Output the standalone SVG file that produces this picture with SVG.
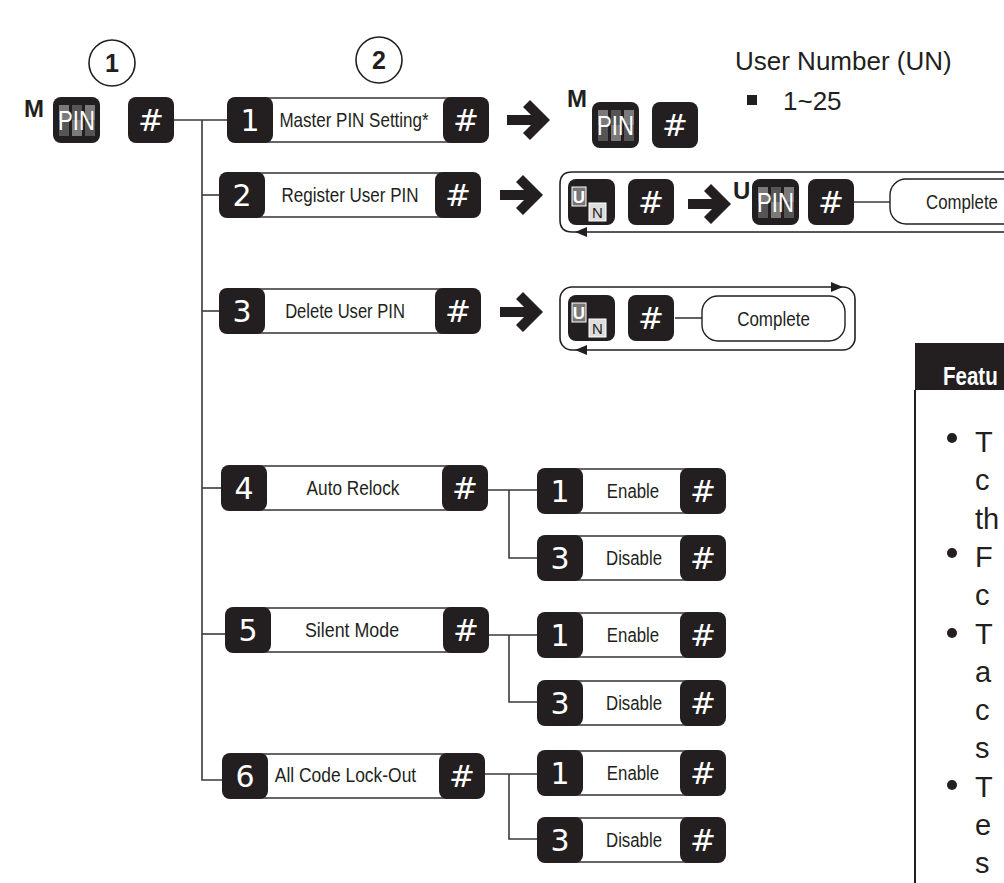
<svg xmlns="http://www.w3.org/2000/svg" width="1004" height="883" viewBox="0 0 1004 883">
<defs>
<style>
.k{fill:#231f20}
.h{fill:#fff;font-family:"DejaVu Sans",sans-serif;font-size:31px;text-anchor:middle}
.d{fill:#fff;font-family:"DejaVu Sans",sans-serif;font-size:30px;text-anchor:middle}
.bx{fill:#fff;stroke:#333;stroke-width:1.5}
.lb{fill:#231f20;font-family:"Liberation Sans",Arial,sans-serif;font-size:21px;text-anchor:middle}
.c{stroke:#3a3a3a;stroke-width:1.6;fill:none}
.lp{stroke:#231f20;stroke-width:1.6;fill:none}
.ah{fill:#231f20}
.pill{fill:#fff;stroke:#231f20;stroke-width:1.4}
.big{fill:#231f20;font-family:"Liberation Sans",Arial,sans-serif;font-size:26px}
.bm{fill:#231f20;font-family:"Liberation Sans",Arial,sans-serif;font-weight:bold;font-size:24px}
.sup{fill:#231f20;font-family:"Liberation Sans",Arial,sans-serif;font-weight:bold;font-size:24px}
.pin{fill:#fff;font-family:"Liberation Sans",Arial,sans-serif;font-size:27px;text-anchor:middle}
.g1{fill:#7a7a7a}
.g2{fill:#555}
.ft{fill:#231f20;font-family:"Liberation Sans",Arial,sans-serif;font-size:29px}
.hd{fill:#fff;font-family:"Liberation Sans",Arial,sans-serif;font-weight:bold;font-size:26px}
.circ{fill:#fff;stroke:#231f20;stroke-width:1.6}
.cn{fill:#231f20;font-family:"Liberation Sans",Arial,sans-serif;font-weight:bold;font-size:25px;text-anchor:middle}
.uk{fill:#fff;font-family:"Liberation Sans",Arial,sans-serif;font-weight:bold;font-size:17px;text-anchor:middle}
.nk{fill:#231f20;font-family:"Liberation Sans",Arial,sans-serif;font-size:15px;text-anchor:middle}
</style>
<path id="arr" d="M-43,-5 H-19 L-27,-13 L-20,-20 L0,0 L-20,20 L-27,13 L-19,5 H-43 Z" fill="#231f20"/>
</defs>
<rect width="1004" height="883" fill="#fff"/>

<g id="connectors">
<path class="c" d="M174,120 H227"/>
<path class="c" d="M202,120 V780 H223"/>
<path class="c" d="M202,195 H219"/>
<path class="c" d="M202,311 H219"/>
<path class="c" d="M202,488 H221"/>
<path class="c" d="M202,634 H225"/>
<path class="c" d="M488,490 H537 M509,490 V558 H537"/>
<path class="c" d="M489,635 H537 M509,635 V702 H537"/>
<path class="c" d="M485,774 H537 M509,774 V839 H537"/>
<path class="c" d="M854,202 H890"/>
<path class="c" d="M675,318 H702"/>
<path class="lp" d="M1010,172 H572 Q560,172 560,184 V220 Q560,232 572,232 H1010"/>
<polygon class="ah" points="575,232 587,227 587,237"/>
<rect class="lp" x="560" y="287" width="295" height="63" rx="12"/>
<polygon class="ah" points="843,287 831,282 831,292"/>
<polygon class="ah" points="575,350 587,345 587,355"/>
<use href="#arr" x="550" y="120"/>
<use href="#arr" x="543" y="195"/>
<use href="#arr" x="543" y="312"/>
<use href="#arr" x="731" y="204"/>
</g>

<g id="step1"><circle class="circ" cx="112" cy="63" r="23"/><text class="cn" x="112" y="72">1</text></g>
<g id="step2"><circle class="circ" cx="379" cy="60" r="23"/><text class="cn" x="379" y="69">2</text></g>
<g id="user-number">
<text class="big" x="735" y="70">User Number (UN)</text>
<rect x="747" y="95" width="10" height="10" fill="#231f20"/>
<text class="big" x="783" y="110">1~25</text>
</g>

<g id="start">
<text class="bm" x="24" y="117">M</text>
<rect class="k" x="53" y="97" width="47" height="46" rx="8"/>
<rect class="g1" x="59" y="105" width="10" height="15"/><rect class="g2" x="59" y="120" width="10" height="16"/>
<rect class="g2" x="72" y="105" width="10" height="15"/><rect class="g1" x="72" y="120" width="10" height="16"/>
<rect class="g1" x="85" y="105" width="10" height="15"/><rect class="g2" x="85" y="120" width="10" height="16"/>
<text class="pin" transform="translate(76.5,130) scale(0.82,1)">PIN</text>
<rect class="k" x="128" y="97" width="46" height="46" rx="8"/><text class="h" x="151" y="131">#</text>
</g>

<g id="row1">
<rect class="bx" x="250" y="98" width="215" height="44"/>
<rect class="k" x="227" y="97" width="46" height="46" rx="8"/><text class="d" x="250" y="131">1</text>
<text class="lb" transform="translate(354,127) scale(0.81,1)">Master PIN Setting*</text>
<rect class="k" x="443" y="97" width="46" height="46" rx="8"/><text class="h" x="466" y="131">#</text>
</g>
<g id="row1-result">
<text class="bm" x="567" y="107">M</text>
<rect class="k" x="592" y="102" width="47" height="46" rx="8"/>
<rect class="g1" x="598" y="110" width="10" height="15"/><rect class="g2" x="598" y="125" width="10" height="16"/>
<rect class="g2" x="611" y="110" width="10" height="15"/><rect class="g1" x="611" y="125" width="10" height="16"/>
<rect class="g1" x="624" y="110" width="10" height="15"/><rect class="g2" x="624" y="125" width="10" height="16"/>
<text class="pin" transform="translate(615.5,135) scale(0.82,1)">PIN</text>
<rect class="k" x="652" y="102" width="46" height="46" rx="8"/><text class="h" x="675" y="136">#</text>
</g>

<g id="row2">
<rect class="bx" x="242" y="173" width="215" height="44"/>
<rect class="k" x="219" y="172" width="46" height="46" rx="8"/><text class="d" x="242" y="206">2</text>
<text class="lb" transform="translate(350,202) scale(0.81,1)">Register User PIN</text>
<rect class="k" x="435" y="172" width="46" height="46" rx="8"/><text class="h" x="458" y="206">#</text>
</g>
<g id="row2-result">
<rect class="k" x="568" y="179" width="47" height="46" rx="8"/>
<rect x="572" y="187" width="14" height="19" fill="#777" stroke="#fff" stroke-width="1"/>
<text class="uk" x="579" y="203">U</text>
<rect x="589" y="203" width="17" height="18" fill="#ddd" stroke="#fff" stroke-width="1"/>
<text class="nk" x="597.5" y="218">N</text>
<rect class="k" x="628" y="179" width="46" height="46" rx="8"/><text class="h" x="651" y="213">#</text>
<text class="sup" x="733" y="199">U</text>
<rect class="k" x="752" y="179" width="47" height="46" rx="8"/>
<rect class="g1" x="758" y="187" width="10" height="15"/><rect class="g2" x="758" y="202" width="10" height="16"/>
<rect class="g2" x="771" y="187" width="10" height="15"/><rect class="g1" x="771" y="202" width="10" height="16"/>
<rect class="g1" x="784" y="187" width="10" height="15"/><rect class="g2" x="784" y="202" width="10" height="16"/>
<text class="pin" transform="translate(775.5,212) scale(0.82,1)">PIN</text>
<rect class="k" x="808" y="179" width="46" height="46" rx="8"/><text class="h" x="831" y="213">#</text>
<rect class="pill" x="890" y="179" width="143" height="45" rx="16"/>
<text class="lb" transform="translate(962,209) scale(0.8,1)">Complete</text>
</g>

<g id="row3">
<rect class="bx" x="242" y="289" width="215" height="44"/>
<rect class="k" x="219" y="288" width="46" height="46" rx="8"/><text class="d" x="242" y="322">3</text>
<text class="lb" transform="translate(345,318) scale(0.79,1)">Delete User PIN</text>
<rect class="k" x="435" y="288" width="46" height="46" rx="8"/><text class="h" x="458" y="322">#</text>
</g>
<g id="row3-result">
<rect class="k" x="568" y="295" width="47" height="46" rx="8"/>
<rect x="572" y="303" width="14" height="19" fill="#777" stroke="#fff" stroke-width="1"/>
<text class="uk" x="579" y="319">U</text>
<rect x="589" y="319" width="17" height="18" fill="#ddd" stroke="#fff" stroke-width="1"/>
<text class="nk" x="597.5" y="334">N</text>
<rect class="k" x="628" y="295" width="46" height="46" rx="8"/><text class="h" x="651" y="329">#</text>
<rect class="pill" x="702" y="296" width="143" height="45" rx="16"/>
<text class="lb" transform="translate(773.5,326) scale(0.81,1)">Complete</text>
</g>

<g id="row4">
<rect class="bx" x="244" y="466" width="220" height="44"/>
<rect class="k" x="221" y="465" width="46" height="46" rx="8"/><text class="d" x="244" y="499">4</text>
<text class="lb" transform="translate(353,495) scale(0.82,1)">Auto Relock</text>
<rect class="k" x="442" y="465" width="46" height="46" rx="8"/><text class="h" x="465" y="499">#</text>
</g>
<g id="row4-enable">
<rect class="bx" x="560" y="469" width="143" height="44"/>
<rect class="k" x="537" y="468" width="46" height="46" rx="8"/><text class="d" x="560" y="502">1</text>
<text class="lb" transform="translate(633,498) scale(0.8,1)">Enable</text>
<rect class="k" x="680" y="468" width="46" height="46" rx="8"/><text class="h" x="703" y="502">#</text>
</g>
<g id="row4-disable">
<rect class="bx" x="560" y="536" width="143" height="44"/>
<rect class="k" x="537" y="535" width="46" height="46" rx="8"/><text class="d" x="560" y="569">3</text>
<text class="lb" transform="translate(634,565) scale(0.8,1)">Disable</text>
<rect class="k" x="680" y="535" width="46" height="46" rx="8"/><text class="h" x="703" y="569">#</text>
</g>

<g id="row5">
<rect class="bx" x="248" y="608" width="220" height="44"/>
<rect class="k" x="225" y="607" width="46" height="46" rx="8"/><text class="d" x="248" y="641">5</text>
<text class="lb" transform="translate(352,637) scale(0.85,1)">Silent Mode</text>
<rect class="k" x="443" y="607" width="46" height="46" rx="8"/><text class="h" x="466" y="641">#</text>
</g>
<g id="row5-enable">
<rect class="bx" x="560" y="613" width="143" height="44"/>
<rect class="k" x="537" y="612" width="46" height="46" rx="8"/><text class="d" x="560" y="646">1</text>
<text class="lb" transform="translate(633,642) scale(0.8,1)">Enable</text>
<rect class="k" x="680" y="612" width="46" height="46" rx="8"/><text class="h" x="703" y="646">#</text>
</g>
<g id="row5-disable">
<rect class="bx" x="560" y="681" width="143" height="44"/>
<rect class="k" x="537" y="680" width="46" height="46" rx="8"/><text class="d" x="560" y="714">3</text>
<text class="lb" transform="translate(634,710) scale(0.8,1)">Disable</text>
<rect class="k" x="680" y="680" width="46" height="46" rx="8"/><text class="h" x="703" y="714">#</text>
</g>

<g id="row6">
<rect class="bx" x="245" y="754" width="216" height="44"/>
<rect class="k" x="222" y="753" width="46" height="46" rx="8"/><text class="d" x="245" y="787">6</text>
<text class="lb" transform="translate(345.5,782) scale(0.83,1)">All Code Lock-Out</text>
<rect class="k" x="439" y="753" width="46" height="46" rx="8"/><text class="h" x="462" y="787">#</text>
</g>
<g id="row6-enable">
<rect class="bx" x="560" y="751" width="143" height="44"/>
<rect class="k" x="537" y="750" width="46" height="46" rx="8"/><text class="d" x="560" y="784">1</text>
<text class="lb" transform="translate(633,780) scale(0.8,1)">Enable</text>
<rect class="k" x="680" y="750" width="46" height="46" rx="8"/><text class="h" x="703" y="784">#</text>
</g>
<g id="row6-disable">
<rect class="bx" x="560" y="818" width="143" height="44"/>
<rect class="k" x="537" y="817" width="46" height="46" rx="8"/><text class="d" x="560" y="851">3</text>
<text class="lb" transform="translate(634,847) scale(0.8,1)">Disable</text>
<rect class="k" x="680" y="817" width="46" height="46" rx="8"/><text class="h" x="703" y="851">#</text>
</g>

<g id="features">
<rect x="915" y="343" width="95" height="47" fill="#231f20"/>
<text class="hd" transform="translate(943,385) scale(0.79,1)">Featu</text>
<line x1="915" y1="390" x2="915" y2="883" stroke="#231f20" stroke-width="2"/>
<circle cx="952" cy="438" r="5" fill="#231f20"/>
<circle cx="952" cy="553" r="5" fill="#231f20"/>
<circle cx="952" cy="633" r="5" fill="#231f20"/>
<circle cx="952" cy="785" r="5" fill="#231f20"/>
<text class="ft" x="975" y="452">T</text>
<text class="ft" x="975" y="490">c</text>
<text class="ft" x="975" y="529">th</text>
<text class="ft" x="975" y="567">F</text>
<text class="ft" x="975" y="605">c</text>
<text class="ft" x="975" y="644">T</text>
<text class="ft" x="975" y="682">a</text>
<text class="ft" x="975" y="720">c</text>
<text class="ft" x="975" y="758">s</text>
<text class="ft" x="975" y="797">T</text>
<text class="ft" x="975" y="835">e</text>
<text class="ft" x="975" y="873">s</text>
</g>
</svg>
